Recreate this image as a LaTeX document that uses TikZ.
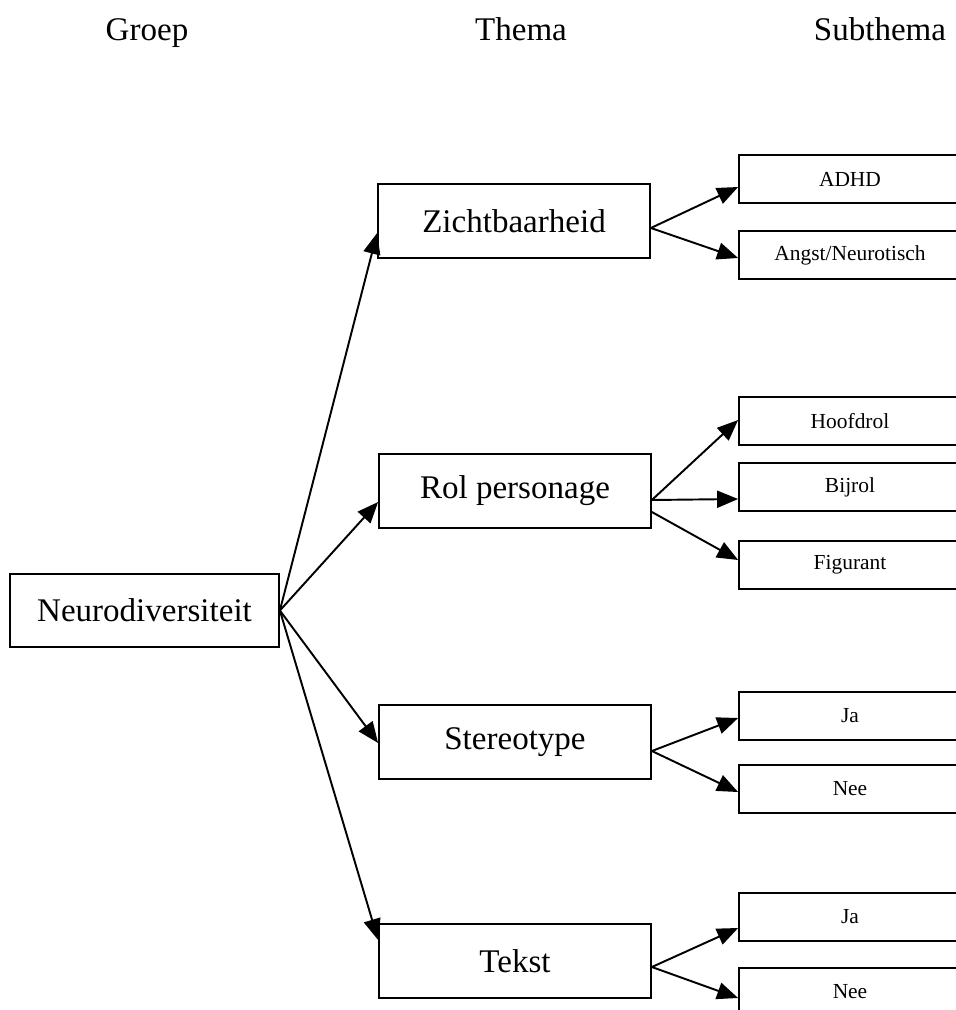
\documentclass[tikz,border=0pt]{standalone}
\usepackage{fontspec}
\setmainfont{Liberation Serif}
\usepackage{tikz}
\usetikzlibrary{arrows.meta}

\begin{document}
\begin{tikzpicture}[
  groupbox/.style={rectangle, draw=black, line width=1pt, minimum width=5.38cm,
                   minimum height=1.46cm, align=center, font=\fontsize{18.8}{22}\selectfont},
  themebox/.style={rectangle, draw=black, line width=1pt, minimum width=5.44cm,
                   minimum height=1.48cm, align=center, font=\fontsize{18.8}{22}\selectfont},
  subbox/.style={rectangle, draw=black, line width=1pt, minimum width=4.44cm,
                 minimum height=0.96cm, align=center, font=\fontsize{12.2}{14}\selectfont},
  arr/.style={-{Triangle[length=0.42cm, width=0.34cm]}, line width=1.1pt, draw=black},
  colhead/.style={anchor=base, font=\fontsize{18.8}{22}\selectfont}
]
\useasboundingbox (0, 0) rectangle (19.12, -20.2);
\clip (0, 0) rectangle (19.12, -20.2);

% Column headers
\node[colhead] (hgroep)    at (2.94, -0.80)  {Groep};
\node[colhead] (hthema)    at (10.42, -0.80) {Thema};
\node[colhead] (hsubthema) at (17.6, -0.80)  {Subthema};

% Group
\node[groupbox] (neuro) at (2.89, -12.21) {Neurodiversiteit};

% Themes
\node[themebox] (zicht)  at (10.28, -4.42)  {Zichtbaarheid};
\node[themebox] (rol)    at (10.30, -9.82)  {Rol personage};
\node[themebox] (stereo) at (10.30, -14.84) {Stereotype};
\node[themebox] (tekst)  at (10.30, -19.22) {Tekst};

% Subthemes
\node[subbox] (adhd)     at (17.0, -3.58)  {ADHD};
\node[subbox] (angst)    at (17.0, -5.10)  {Angst/Neurotisch};
\node[subbox] (hoofdrol) at (17.0, -8.42)  {Hoofdrol};
\node[subbox] (bijrol)   at (17.0, -9.74)  {Bijrol};
\node[subbox] (figurant) at (17.0, -11.30) {Figurant};
\node[subbox] (stja)     at (17.0, -14.32) {Ja};
\node[subbox] (stnee)    at (17.0, -15.78) {Nee};
\node[subbox] (tkja)     at (17.0, -18.34) {Ja};
\node[subbox] (tknee)    at (17.0, -19.84) {Nee};

% Arrows group -> themes
\draw[arr] (neuro.east) -- ([yshift=-0.24cm]zicht.west);
\draw[arr] (neuro.east) -- ([yshift=-0.22cm]rol.west);
\draw[arr] (neuro.east) -- ([yshift=-0.02cm]stereo.west);
\draw[arr] (neuro.east) -- ([yshift=0.42cm]tekst.west);

% Arrows themes -> subthemes
\draw[arr] ([yshift=-0.14cm]zicht.east) -- ([yshift=-0.16cm]adhd.west);
\draw[arr] ([yshift=-0.14cm]zicht.east) -- ([yshift=-0.06cm]angst.west);
\draw[arr] ([yshift=-0.18cm]rol.east)   -- ([yshift=0.02cm]hoofdrol.west);
\draw[arr] ([yshift=-0.18cm]rol.east)   -- ([yshift=-0.24cm]bijrol.west);
\draw[arr] ([yshift=-0.42cm]rol.east)   -- ([yshift=0.10cm]figurant.west);
\draw[arr] ([yshift=-0.18cm]stereo.east) -- ([yshift=-0.04cm]stja.west);
\draw[arr] ([yshift=-0.18cm]stereo.east) -- ([yshift=-0.06cm]stnee.west);
\draw[arr] ([yshift=-0.12cm]tekst.east) -- ([yshift=-0.22cm]tkja.west);
\draw[arr] ([yshift=-0.12cm]tekst.east) -- ([yshift=-0.12cm]tknee.west);

\end{tikzpicture}
\end{document}
